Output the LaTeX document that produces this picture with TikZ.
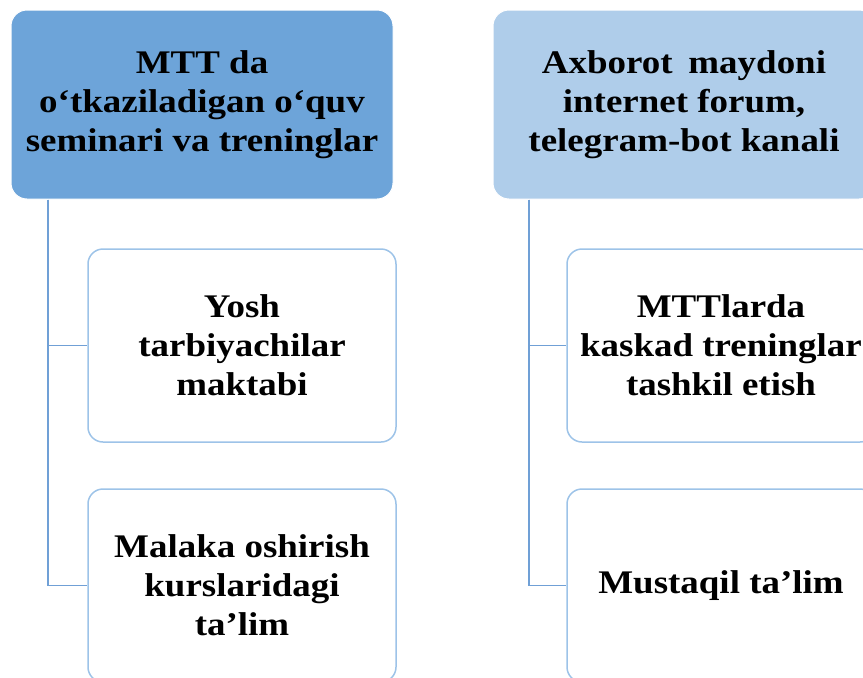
\documentclass[tikz,border=0pt]{standalone}
\usepackage{fontspec}
\setmainfont[FakeStretch=1.12]{Liberation Serif}
\definecolor{hdrdark}{RGB}{109,164,217}
\definecolor{hdrlight}{RGB}{175,205,234}
\definecolor{childline}{RGB}{157,195,232}
\definecolor{connline}{RGB}{112,160,214}
\begin{document}
\begin{tikzpicture}[x=1pt,y=-1pt,
  txt/.style={font=\fontsize{33}{39}\selectfont\bfseries, align=center, text=black},
  hdr/.style={txt, rounded corners=16pt, minimum width=382pt, minimum height=189pt, draw=white, line width=1pt},
  child/.style={txt, rounded corners=15pt, minimum width=308pt, minimum height=193pt, draw=childline, line width=1.5pt, fill=white},
  conn/.style={draw=connline, line width=1.6pt}]
\useasboundingbox (0,0) rectangle (863,678);
\clip (0,0) rectangle (863,678);
\node[hdr, fill=hdrdark] (lh) at (202,104.5) {MTT da\\o‘tkaziladigan o‘quv\\seminari va treninglar};
\node[hdr, fill=hdrlight] (rh) at (684,104.5) {Axborot\hspace{0.2em} maydoni\\internet forum,\\telegram-bot kanali};
\node[child] (lc1) at (242,345.5) {Yosh\\tarbiyachilar\\maktabi};
\node[child] (lc2) at (242,585.5) {Malaka oshirish\\kurslaridagi\\ta’lim};
\node[child] (rc1) at (721,345.5) {MTTlarda\\kaskad treninglar\\tashkil etish};
\node[child] (rc2) at (721,585.5) {Mustaqil ta’lim};
\coordinate (lv) at (48,199);
\coordinate (rv) at (529,199);
\draw[conn] (lh.south -| lv) |- (lc1.west);
\draw[conn] (lh.south -| lv) |- (lc2.west);
\draw[conn] (rh.south -| rv) |- (rc1.west);
\draw[conn] (rh.south -| rv) |- (rc2.west);
\end{tikzpicture}
\end{document}
